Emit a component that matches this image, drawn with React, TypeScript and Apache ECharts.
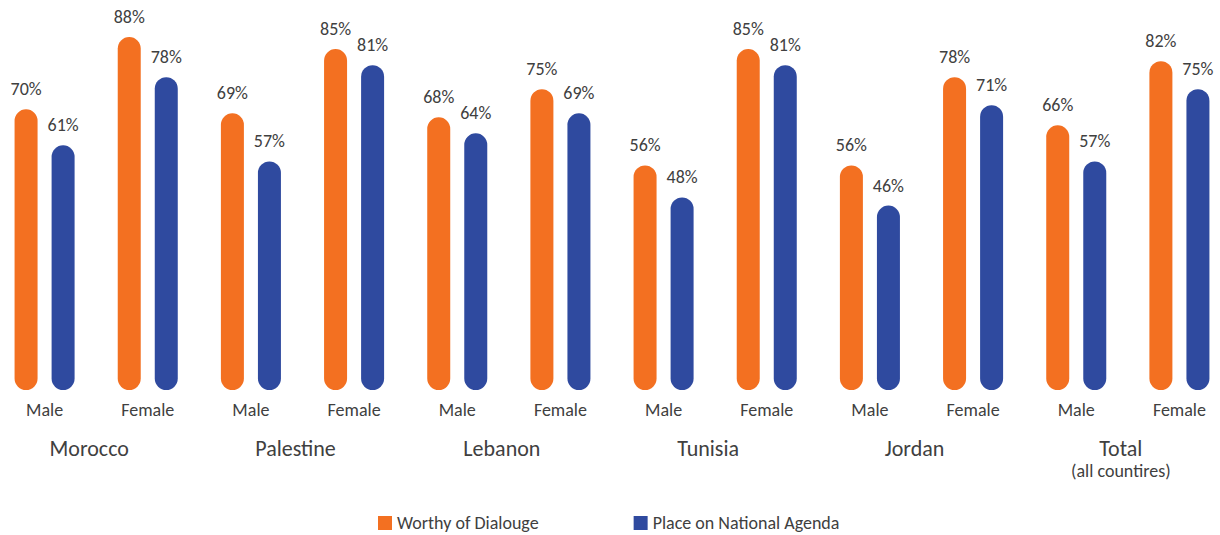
import React, { useEffect, useRef } from "react";
import * as echarts from "echarts";

const countries = ["Morocco", "Palestine", "Lebanon", "Tunisia", "Jordan", "Total\n(all countires)"];
const genders = ["Male", "Female"];
const worthyOfDialogue = [70, 88, 69, 85, 68, 75, 56, 85, 56, 78, 66, 82];
const nationalAgenda = [61, 78, 57, 81, 64, 69, 48, 81, 46, 71, 57, 75];
const seriesNames = ["Worthy of Dialouge", "Place on National Agenda"];

const FONT = "Carlito, Calibri, Lato, sans-serif";
const TEXT = "#404040";
const ORANGE = "#F37021";
const BLUE = "#2F4A9F";

export default function App() {
  const ref = useRef<HTMLDivElement>(null);
  useEffect(() => {
    if (!ref.current) return;
    const chart = echarts.init(ref.current, undefined, { renderer: "svg" });
    const categories: string[] = [];
    countries.forEach(() => genders.forEach((g) => categories.push(g)));
    const label = {
      show: true,
      position: "top" as const,
      distance: 11,
      formatter: "{c}%",
      color: TEXT,
      fontFamily: FONT,
      fontSize: 18,
    };
    chart.setOption({
      animation: false,
      textStyle: { fontFamily: FONT },
      grid: { left: -7, right: -11, top: 9, bottom: 145, containLabel: false, outerBoundsMode: "none" },
      legend: {
        top: 509,
        left: 373,
        itemWidth: 14,
        itemHeight: 14,
        itemGap: 95,
        icon: "rect",
        textStyle: { color: TEXT, fontFamily: FONT, fontSize: 18 },
        data: seriesNames,
      },
      xAxis: [
        {
          type: "category",
          data: categories,
          axisLine: { show: false },
          axisTick: { show: false },
          axisLabel: { color: TEXT, fontFamily: FONT, fontSize: 18, margin: 11, interval: 0 },
        },
        {
          type: "category",
          data: countries,
          position: "bottom",
          axisLine: { show: false },
          axisTick: { show: false },
          axisLabel: {
            interval: 0,
            margin: 46,
            padding: [0, 14, 0, 0],
            formatter: (v: string) => {
              const parts = v.split("\n");
              return parts.length > 1 ? `{a|${parts[0]}}\n{b|${parts[1]}}` : `{a|${v}}`;
            },
            rich: {
              a: { color: TEXT, fontFamily: FONT, fontSize: 22, lineHeight: 24 },
              b: { color: TEXT, fontFamily: FONT, fontSize: 18, lineHeight: 22 },
            },
          },
        },
      ],
      yAxis: { type: "value", min: 0, max: 95, show: false, splitLine: { show: false } },
      series: [
        {
          name: seriesNames[0],
          type: "bar",
          xAxisIndex: 0,
          data: worthyOfDialogue,
          barWidth: 23,
          barGap: "61%",
          itemStyle: { color: ORANGE, borderRadius: 12 },
          label,
        },
        {
          name: seriesNames[1],
          type: "bar",
          xAxisIndex: 0,
          data: nationalAgenda,
          barWidth: 23,
          barGap: "61%",
          itemStyle: { color: BLUE, borderRadius: 12 },
          label,
        },
      ],
    });
    return () => chart.dispose();
  }, []);
  return (
    <div
      ref={ref}
      style={{ position: "absolute", left: 0, top: 0, width: 1220, height: 535, background: "#fff" }}
    />
  );
}
